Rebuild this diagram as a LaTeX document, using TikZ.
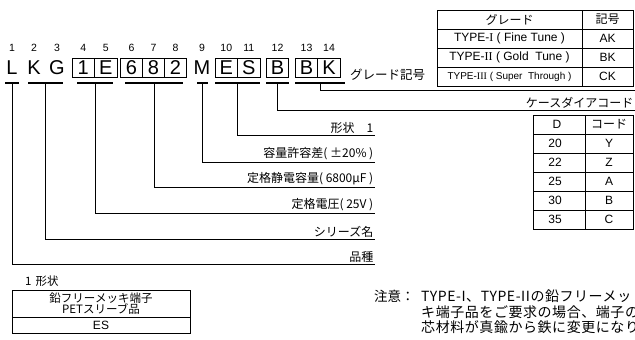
\documentclass[tikz,border=0pt]{standalone}
\usepackage{fontspec}
\setmainfont{Liberation Sans}
\newfontfamily\jp{Noto Sans CJK JP}
\newfontfamily\rn{Liberation Serif}
\usetikzlibrary{positioning}

\tikzset{
	letter/.style={font=\fontsize{20}{20}\selectfont, inner sep=0pt, minimum width=22.5pt, minimum height=19pt, text height=14pt, text depth=0pt},
	cell/.style={letter, draw, line width=0.8pt},
	num/.style={font=\fontsize{10.5}{10.5}\selectfont, inner sep=0pt},
	uline/.style={line width=1.6pt},
	lead/.style={line width=0.7pt},
	lbl/.style={font=\jp\fontsize{12}{12}\selectfont, anchor=south east, inner sep=1.5pt},
	tabtext/.style={font=\fontsize{12}{12}\selectfont, inner sep=0pt},
	jptext/.style={font=\jp\fontsize{12}{12}\selectfont, inner sep=0pt},
}

\begin{document}
\begin{tikzpicture}[x=1pt,y=-1pt]
\useasboundingbox (0,0) rectangle (635,340);

% part number with position numbers
\foreach \n/\ch/\x/\s in {1/L/12/letter,2/K/34/letter,3/G/57/letter,4/1/83.25/cell,5/E/105.75/cell,
	6/6/131.5/cell,7/8/153.5/cell,8/2/175.5/cell,9/M/202/letter,10/E/226.25/cell,11/S/248.75/cell,
	12/B/277.5/cell,13/B/306.5/cell,14/K/329/cell}{
	\node[\s] (c\n) at (\x,67.5) {\ch};
	\node[num, above=6pt of c\n] (n\n) {\n};
}

% underlines
\foreach \k/\a/\b in {L/5/19,KG/28/63,IE/77/113,CAP/125/183,M/197/208,ES/215/260,B/266/289,BK/295/345}{
	\draw[uline] (\a,83) -- coordinate (u\k) (\b,83);
}

% labels
\node[lbl] (lES) at (375,135) {形状　1};
\node[lbl] (lM) at (375,162) {容量許容差( ±20\% )};
\node[lbl] (lCAP) at (375,187) {定格静電容量( 6800\char"03BC F )};
\node[lbl] (lIE) at (375,213) {定格電圧( 25V )};
\node[lbl] (lKG) at (375,239) {シリーズ名};
\node[lbl] (lL) at (375,264) {品種};
\node[lbl] (lB) at (635,110) {ケースダイアコード};
\node[jptext, font=\jp\fontsize{12.5}{12.5}\selectfont, anchor=base west] (lBK) at (350,79) {グレード記号};
\coordinate (gEnd) at (635,90);

\draw[lead] (uES) |- (lES.south east);
\draw[lead] (uM) |- (lM.south east);
\draw[lead] (uCAP) |- (lCAP.south east);
\draw[lead] (uIE) |- (lIE.south east);
\draw[lead] (uKG) |- (lKG.south east);
\draw[lead] (uL) |- (lL.south east);
\draw[lead] (uB) |- (lB.south east);
\draw[lead] (uBK) |- (gEnd);

% grade table
\draw[lead] (437,10) rectangle (633,86);
\foreach \y in {29,48,67}{\draw[lead] (437,\y) -- (633,\y);}
\draw[lead] (582,10) -- (582,86);
\node[jptext] (g0) at (509.5,19.5) {グレード};
\node[jptext] (k0) at (607.5,19.5) {記号};
\node[tabtext] (g1) at (509.5,38.5) {TYPE-{\rn I} ( Fine Tune )};
\node[tabtext] (g2) at (509.5,57.5) {TYPE-{\rn II} ( Gold\ \ Tune )};
\node[tabtext, font=\fontsize{10}{10}\selectfont] (g3) at (509.5,76.5) {TYPE-{\rn III} ( Super\ \ Through )};
\foreach \c [count=\i] in {AK,BK,CK}{
	\node[tabtext] (k\i) at (607.5,19.5+19*\i) {\c};
}

% case size table
\draw[lead] (533,115) rectangle (633,229);
\foreach \y in {134,153,172,191,210}{\draw[lead] (533,\y) -- (633,\y);}
\draw[lead] (585,115) -- (585,229);
\node[tabtext] (d0) at (557,124.5) {D};
\node[jptext] (y0) at (609,124.5) {コード};
\foreach \d/\c [count=\i] in {20/Y,22/Z,25/A,30/B,35/C}{
	\node[tabtext] (d\i) at (555,124.5+19*\i) {\d};
	\node[tabtext] (y\i) at (609,124.5+19*\i) {\c};
}

% shape table
\node[jptext, font=\jp\fontsize{11.5}{12}\selectfont, anchor=west] (sh) at (25,281) {1\hspace{4pt}形状};
\draw[lead] (12,290) rectangle (190,333);
\draw[lead] (12,317) -- (190,317);
\node[jptext, font=\jp\fontsize{11.5}{11.5}\selectfont, align=center] (sh1) at (101,303.5) {鉛フリーメッキ端子\\PETスリーブ品};
\node[tabtext] (sh2) at (101,325.5) {ES};

% note
\node[jptext, font=\jp\fontsize{13.5}{15.5}\selectfont, anchor=north west] (nt0) at (374,290) {注意：};
\node[jptext, font=\jp\fontsize{14}{15.5}\selectfont\addfontfeatures{LetterSpace=4}, anchor=north west, align=left] (nt1) at (421,290)
	{TYPE-I、TYPE-IIの鉛フリーメッ\\キ端子品をご要求の場合、端子の\\芯材料が真鍮から鉄に変更になり};

\end{tikzpicture}
\end{document}
